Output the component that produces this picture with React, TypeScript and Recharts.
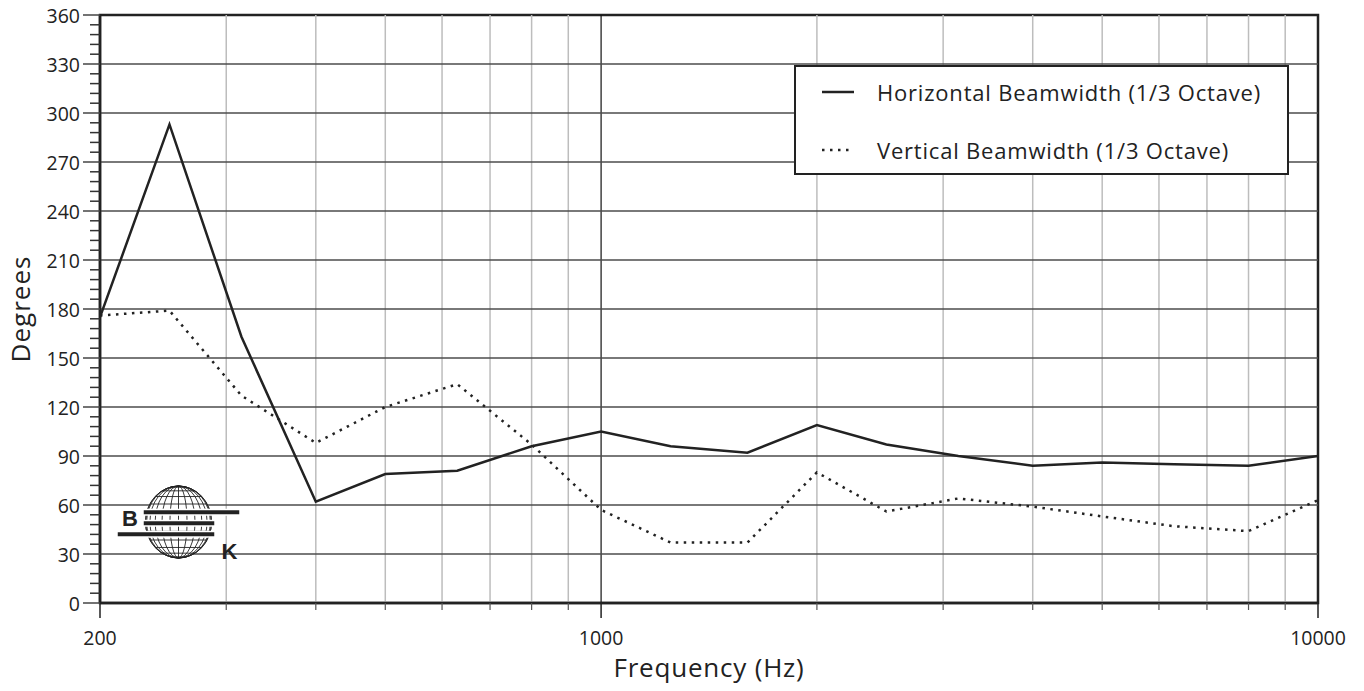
import React from 'react';
import { LineChart, Line, XAxis, YAxis, ReferenceLine, ReferenceArea, Legend } from 'recharts';

// 1/3 octave centre frequencies (Hz)
const frequencies = [200, 250, 315, 400, 500, 630, 800, 1000, 1250, 1600, 2000, 2500, 3150, 4000, 5000, 6300, 8000, 10000];

// beamwidth in degrees per band
const horizontalBeamwidth = [175, 293, 163, 62, 79, 81, 96, 105, 96, 92, 109, 97, 90, 84, 86, 85, 84, 90];
const verticalBeamwidth = [176, 179, 127, 98, 120, 134, 97, 57, 37, 37, 80, 56, 64, 59, 53, 47, 44, 63];

// axis ticks and grid
const xLabelTicks = [200, 1000, 10000];
const xGridMinor = [300, 400, 500, 600, 700, 800, 900, 2000, 3000, 4000, 5000, 6000, 7000, 8000, 9000];
const xGridMajor = [1000];
const yMinorTicks = Array.from({ length: 61 }, (_, i) => i * 6);
const yGrid = [30, 60, 90, 120, 150, 180, 210, 240, 270, 300, 330];

const data = frequencies.map((f, i) => ({
  freq: f,
  horizontal: horizontalBeamwidth[i],
  vertical: verticalBeamwidth[i],
}));

const FONT = '"Open Sans", "DejaVu Sans", sans-serif';
const INK = '#222';

const XTick = (props: any) => {
  const { x, y, payload } = props;
  const major = xLabelTicks.includes(payload.value);
  return (
    <g>
      <line x1={x} x2={x} y1={y} y2={y + (major ? 15 : 7)} stroke={major ? INK : '#555'} strokeWidth={major ? 1.5 : 1.2} />
      {major && (
        <text x={x} y={y + 34} textAnchor="middle" dominantBaseline="central" fontFamily={FONT} fontSize={19.5} fill={INK}>
          {payload.value}
        </text>
      )}
    </g>
  );
};

const YTick = (props: any) => {
  const { x, y, payload } = props;
  const major = payload.value % 30 === 0;
  return (
    <g>
      <line x1={x - (major ? 17 : 10)} x2={x} y1={y} y2={y} stroke={major ? '#444' : '#333'} strokeWidth={1.5} />
      {major && (
        <text x={x - 20} y={y} textAnchor="end" dominantBaseline="central" fontFamily={FONT} fontSize={19.5} fill={INK}>
          {payload.value}
        </text>
      )}
    </g>
  );
};

const LegendBox = ({ payload }: any) => (
  <div
    style={{
      width: 495,
      height: 110,
      boxSizing: 'border-box',
      border: `2px solid ${INK}`,
      background: '#fff',
      position: 'relative',
      fontFamily: FONT,
      fontSize: 22,
      letterSpacing: 0.8,
      color: INK,
    }}
  >
    {(payload || []).map((entry: any, i: number) => {
      const dash = entry.payload?.strokeDasharray;
      const cy = i === 0 ? 25 : 83;
      return (
        <div key={entry.value} style={{ position: 'absolute', left: 0, top: cy - 15, height: 30, width: '100%' }}>
          <svg width={60} height={30} style={{ position: 'absolute', left: 0, top: 0 }}>
            <line x1={26} x2={58} y1={15} y2={15} stroke={INK} strokeWidth={2.5} strokeDasharray={dash} />
          </svg>
          <span style={{ position: 'absolute', left: 81, top: 0, lineHeight: '30px', whiteSpace: 'nowrap' }}>{entry.value}</span>
        </div>
      );
    })}
  </div>
);

// B&K globe mark in the lower left of the plot
const Logo = () => {
  const cx = 178.5;
  const cy = 522;
  const rx = 33;
  const ry = 36;
  const angles = [0, 15, 30, 45, 60, 75];
  return (
    <svg width={1364} height={691} style={{ position: 'absolute', left: 0, top: 0, pointerEvents: 'none' }}>
      <g fill="none" stroke={INK} strokeWidth={0.9}>
        <ellipse cx={cx} cy={cy} rx={rx} ry={ry} fill="#fff" />
        {angles.map((a) => (
          <ellipse key={`m${a}`} cx={cx} cy={cy} rx={rx * Math.cos((a * Math.PI) / 180)} ry={ry} />
        ))}
        <line x1={cx} x2={cx} y1={cy - ry} y2={cy + ry} />
        {[-75, -60, -45, -30, -15, 0, 15, 30, 45, 60, 75].map((p) => {
          const t = (p * Math.PI) / 180;
          const yy = cy + ry * Math.sin(t);
          const hw = rx * Math.cos(t);
          return <line key={`p${p}`} x1={cx - hw} x2={cx + hw} y1={yy} y2={yy} />;
        })}
      </g>
      <g fill={INK} stroke="#fff" strokeWidth={1.5}>
        <rect x={143} y={509.5} width={97} height={5.5} />
        <rect x={143} y={520.5} width={72} height={5.5} />
        <rect x={117} y={531.5} width={98} height={5.5} />
      </g>
      <text x={130} y={526} textAnchor="middle" fontFamily="Liberation Sans, Arial, sans-serif" fontWeight="bold" fontSize={22} fill={INK}>
        B
      </text>
      <text x={229.5} y={559} textAnchor="middle" fontFamily="Liberation Sans, Arial, sans-serif" fontWeight="bold" fontSize={22} fill={INK}>
        K
      </text>
    </svg>
  );
};

const BeamwidthChart: React.FC = () => (
  <div style={{ position: 'absolute', left: 0, top: 0, width: 1364, height: 691, background: '#fff' }}>
    <LineChart width={1364} height={691} data={data} margin={{ top: 15, right: 46, bottom: 28, left: 0 }}>
      <XAxis
        dataKey="freq"
        type="number"
        scale="log"
        domain={[200, 10000]}
        ticks={[200, ...xGridMinor, 1000, 10000].sort((a, b) => a - b)}
        tick={<XTick />}
        tickLine={false}
        tickSize={0}
        tickMargin={0}
        interval={0}
        height={60}
        axisLine={{ stroke: INK, strokeWidth: 2.5 }}
        allowDataOverflow
        label={{
          value: 'Frequency (Hz)',
          position: 'insideBottom',
          offset: -14,
          style: { fontFamily: FONT, fontSize: 26, letterSpacing: 0.8, fill: INK },
        }}
      />
      <YAxis
        type="number"
        domain={[0, 360]}
        ticks={yMinorTicks}
        tick={<YTick />}
        tickLine={false}
        tickSize={0}
        tickMargin={0}
        interval={0}
        width={100}
        axisLine={{ stroke: INK, strokeWidth: 2.5 }}
        label={{
          value: 'Degrees',
          angle: -90,
          position: 'insideLeft',
          offset: 21,
          style: { textAnchor: 'middle', fontFamily: FONT, fontSize: 26, letterSpacing: 1, fill: INK },
        }}
      />
      {xGridMinor.map((v) => (
        <ReferenceLine key={`vx${v}`} x={v} stroke="#bdbdbd" strokeWidth={1.5} />
      ))}
      {xGridMajor.map((v) => (
        <ReferenceLine key={`vX${v}`} x={v} stroke="#111" strokeWidth={1.2} />
      ))}
      {yGrid.map((v) => (
        <ReferenceLine key={`hy${v}`} y={v} stroke="#4d4d4d" strokeWidth={1.5} />
      ))}
      <Line
        type="linear"
        dataKey="horizontal"
        name="Horizontal Beamwidth (1/3 Octave)"
        stroke={INK}
        strokeWidth={2.5}
        dot={false}
        activeDot={false}
        isAnimationActive={false}
      />
      <Line
        type="linear"
        dataKey="vertical"
        name="Vertical Beamwidth (1/3 Octave)"
        stroke={INK}
        strokeWidth={2.5}
        strokeDasharray="2.5 5.5"
        dot={false}
        activeDot={false}
        isAnimationActive={false}
      />
      <ReferenceArea x1={200} x2={10000} y1={0} y2={360} fill="none" stroke={INK} strokeWidth={2.5} ifOverflow="visible" />
      <Legend
        layout="vertical"
        align="center"
        verticalAlign="middle"
        content={<LegendBox />}
        wrapperStyle={{ position: 'absolute', left: 794, top: 65, width: 495, height: 110 }}
      />
    </LineChart>
    <Logo />
  </div>
);

export default BeamwidthChart;
